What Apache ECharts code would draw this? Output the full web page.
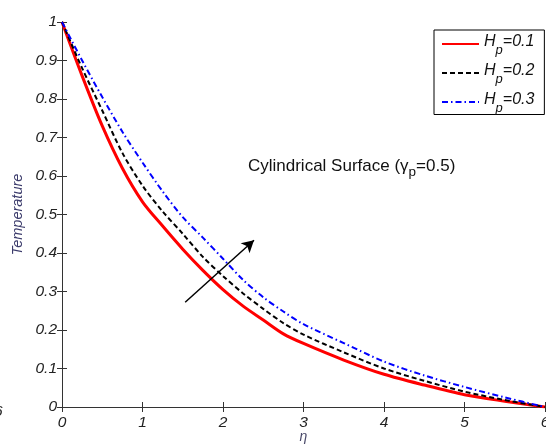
<!DOCTYPE html>
<html>
<head>
<meta charset="utf-8">
<script src="https://cdn.jsdelivr.net/npm/echarts@6/dist/echarts.min.js"></script>
<style>
html,body{margin:0;padding:0;background:#fff;}
#chart{width:546px;height:447px;}
</style>
</head>
<body>
<div id="chart"></div>
<script>
// ---- data ----
var eta = [0, 0.25, 0.5, 0.75, 1.0, 1.25, 1.5, 1.75, 2.0, 2.25, 2.5, 2.75, 3.0, 3.5, 4.0, 4.5, 5.0, 5.5, 6.0];
var hp01 = [1.0, 0.86, 0.73, 0.62, 0.533, 0.47, 0.41, 0.355, 0.305, 0.262, 0.226, 0.19, 0.165, 0.122, 0.085, 0.057, 0.032, 0.015, 0.0];
var hp02 = [1.0, 0.88, 0.77, 0.66, 0.575, 0.508, 0.45, 0.39, 0.34, 0.295, 0.255, 0.218, 0.188, 0.142, 0.10, 0.068, 0.040, 0.018, 0.0];
var hp03 = [1.0, 0.90, 0.805, 0.715, 0.635, 0.56, 0.493, 0.44, 0.385, 0.33, 0.285, 0.248, 0.215, 0.166, 0.118, 0.082, 0.052, 0.025, 0.0];
var seriesNames = ['0.1', '0.2', '0.3'];
var xTicks = [0, 1, 2, 3, 4, 5, 6];
var yTicks = [0, 0.1, 0.2, 0.3, 0.4, 0.5, 0.6, 0.7, 0.8, 0.9, 1];
var arrowFrom = [1.53, 0.272];
var arrowTo = [2.385, 0.433];
var notePos = [2.31, 0.625];

function pairs(xs, ys) { return xs.map(function (x, i) { return [x, ys[i]]; }); }

var FONT = "'Liberation Sans', Arial, sans-serif";
var axisColor = '#333';
var labelStyle = { fontFamily: FONT, fontSize: 15.5, fontStyle: 'italic', color: '#222' };

var chart = echarts.init(document.getElementById('chart'), null, { renderer: 'canvas' });

var legendRich = {
  h: { fontFamily: FONT, fontSize: 16, fontStyle: 'italic', color: '#111', padding: [0, 0, 4, 0] },
  p: { fontFamily: FONT, fontSize: 13, fontStyle: 'italic', color: '#111', padding: [12, 0, 0, 0] },
  v: { fontFamily: FONT, fontSize: 16, fontStyle: 'italic', color: '#111', padding: [0, 0, 4, 0] }
};

var option = {
  animation: false,
  backgroundColor: '#fff',
  grid: { left: 62, right: 1, top: 22, bottom: 40, containLabel: false, outerBoundsMode: 'none' },
  xAxis: [{
    type: 'value', min: 0, max: 6, interval: 1,
    name: 'η', nameLocation: 'middle', nameGap: 23, nameMoveOverlap: false,
    nameTextStyle: { fontFamily: FONT, fontSize: 14, fontStyle: 'italic', color: '#4a4a6a' },
    axisLine: { show: true, lineStyle: { color: axisColor, width: 1 } },
    axisTick: { show: true, inside: true, length: 5, lineStyle: { color: axisColor } },
    axisLabel: Object.assign({ margin: 8, formatter: function (v) { return String(v); } }, labelStyle),
    splitLine: { show: false }
  }, {
    type: 'value', min: 0, max: 6, interval: 1, position: 'top',
    axisLine: { show: true, lineStyle: { color: axisColor, width: 1 } },
    axisTick: { show: true, inside: true, length: 5, lineStyle: { color: axisColor } },
    axisLabel: { show: false }, splitLine: { show: false }
  }],
  yAxis: [{
    type: 'value', min: 0, max: 1, interval: 0.1,
    name: 'Temperature', nameLocation: 'middle', nameGap: 37, nameRotate: 90, nameMoveOverlap: false,
    nameTextStyle: { fontFamily: FONT, fontSize: 14.5, fontStyle: 'italic', color: '#3c3c6c' },
    axisLine: { show: true, lineStyle: { color: axisColor, width: 1 } },
    axisTick: { show: true, inside: true, length: 5, lineStyle: { color: axisColor } },
    axisLabel: Object.assign({ margin: 5, formatter: function (v) { return String(Math.round(v * 10) / 10); } }, labelStyle),
    splitLine: { show: false }
  }, {
    type: 'value', min: 0, max: 1, interval: 0.1, position: 'right',
    axisLine: { show: true, lineStyle: { color: axisColor, width: 1 } },
    axisTick: { show: true, inside: true, length: 5, lineStyle: { color: axisColor } },
    axisLabel: { show: false }, splitLine: { show: false }
  }],
  legend: {
    orient: 'vertical', left: 434, top: 30,
    data: ['Hp=' + seriesNames[0], 'Hp=' + seriesNames[1], 'Hp=' + seriesNames[2]],
    backgroundColor: '#fff', borderColor: '#000', borderWidth: 1,
    padding: [4, 10, 0, 7], itemGap: 6.5, itemWidth: 37, itemHeight: 14,
    itemStyle: { opacity: 0 },
    formatter: function (name) { return '{h|H}{p|p}{v|=' + name.split('=')[1] + '}'; },
    textStyle: { rich: legendRich, padding: [0, 0, 0, 0] }
  },
  series: [{
    name: 'Hp=' + seriesNames[0], type: 'line', data: pairs(eta, hp01), symbol: 'none', smooth: 0.3,
    lineStyle: { color: '#ff0000', width: 3, type: 'solid' }, itemStyle: { color: '#ff0000' }, z: 3,
    markLine: {
      silent: true, symbol: ['none', 'arrow'], symbolSize: [10, 12],
      lineStyle: { color: '#000', width: 1.5, type: 'solid' }, label: { show: false },
      data: [[{ coord: arrowFrom }, { coord: arrowTo }]]
    },
    markPoint: {
      silent: true, symbol: 'circle', symbolSize: 0,
      data: [{ coord: notePos, value: 0 }],
      label: {
        show: true, position: 'inside', align: 'left', verticalAlign: 'middle',
        formatter: 'Cylindrical Surface (γ{p|p}=0.5)',
        fontFamily: FONT, fontSize: 17, color: '#111',
        rich: { p: { fontFamily: FONT, fontSize: 13.5, color: '#111', padding: [12, 0, 0, 0] } }
      }
    }
  }, {
    name: 'Hp=' + seriesNames[1], type: 'line', data: pairs(eta, hp02), symbol: 'none', smooth: 0.3,
    lineStyle: { color: '#000000', width: 2, type: [5, 3] }, itemStyle: { color: '#000' }, z: 4
  }, {
    name: 'Hp=' + seriesNames[2], type: 'line', data: pairs(eta, hp03), symbol: 'none', smooth: 0.3,
    lineStyle: { color: '#0000ff', width: 2, type: [6, 3, 1.5, 3] }, itemStyle: { color: '#0000ff' }, z: 5
  }],
  graphic: [{
    type: 'text', left: -6, top: 404,
    style: { text: '6', font: 'italic 15.5px ' + FONT, fill: '#222' }
  }]
};
chart.setOption(option);
</script>
</body>
</html>
